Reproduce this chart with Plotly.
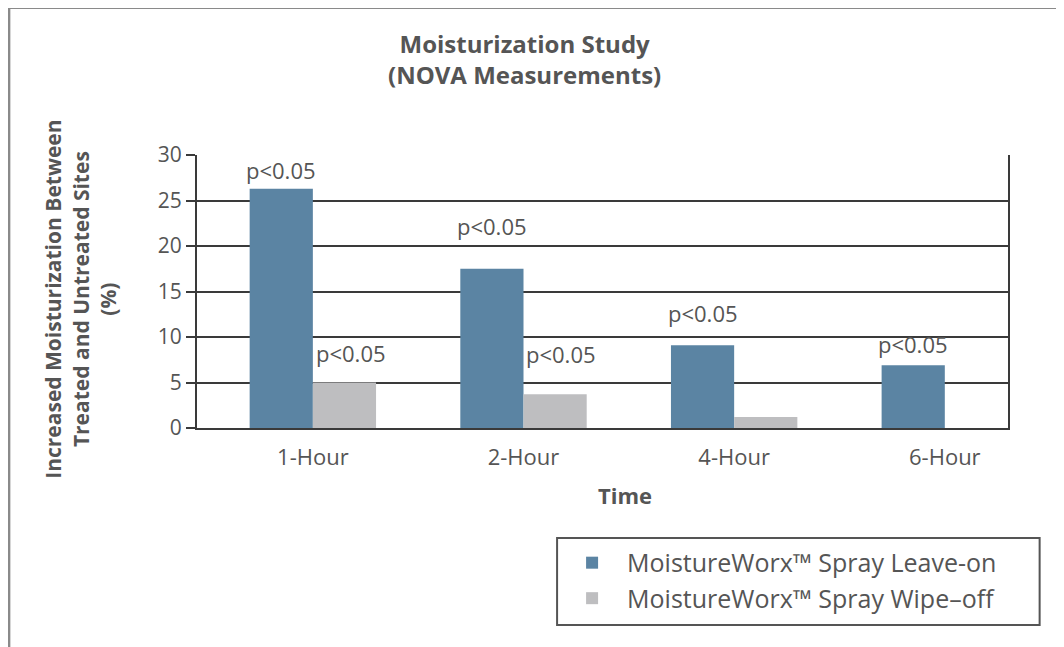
import plotly.graph_objects as go

# data
times = ["1-Hour", "2-Hour", "4-Hour", "6-Hour"]
leave_on = [26.3, 17.5, 9.1, 6.9]
wipe_off = [5.0, 3.7, 1.2, None]

# significance labels: (category index offset, y value)
label_text = ["p<0.05", "p<0.05", "p<0.05", "p<0.05", "p<0.05", "p<0.05"]
label_x = [-0.15, 0.18, 0.85, 1.18, 1.85, 2.85]
label_y = [28.3, 8.2, 22.2, 8.1, 12.6, 9.2]

blue = "#5B84A3"
grey = "#BEBEC0"
ink = "#3a3a3a"
text_col = "#555555"
font_family = "Open Sans, sans-serif"

fig = go.Figure()
fig.add_trace(go.Bar(x=times, y=leave_on, name="MoistureWorx™ Spray Leave-on",
                     marker=dict(color=blue, line=dict(width=0))))
fig.add_trace(go.Bar(x=times, y=wipe_off, name="MoistureWorx™ Spray Wipe–off",
                     marker=dict(color=grey, line=dict(width=0))))

annotations = []
for t, xv, yv in zip(label_text, label_x, label_y):
    annotations.append(dict(x=xv, y=yv, xref="x", yref="y", text=t, showarrow=False,
                            font=dict(size=22, color=text_col, family=font_family)))

# titles as annotations so they sit where the reference has them
annotations.append(dict(
    x=0.404, y=1.35, xref="paper", yref="paper", xanchor="center", yanchor="middle",
    showarrow=False, text="<b>Moisturization Study<br>(NOVA Measurements)</b>",
    font=dict(size=24, color=text_col, family=font_family)))
annotations.append(dict(
    x=-0.143, y=0.47, xref="paper", yref="paper", xanchor="center", yanchor="middle",
    textangle=-90, showarrow=False,
    text="<b>Increased Moisturization Between<br>Treated and Untreated Sites<br>(%)</b>",
    font=dict(size=21, color=text_col, family=font_family)))
annotations.append(dict(
    x=0.528, y=-0.245, xref="paper", yref="paper", xanchor="center", yanchor="middle",
    showarrow=False, text="<b>Time</b>",
    font=dict(size=22, color=text_col, family=font_family)))

# page body has an 8px margin, so the figure is a bit smaller and shifted
fig.update_layout(
    width=1056, height=639,
    paper_bgcolor="white", plot_bgcolor="white",
    barmode="group", bargap=0.4, bargroupgap=0,
    margin=dict(l=189, r=56, t=147, b=219),
    font=dict(family=font_family, color=text_col),
    xaxis=dict(range=[-0.55, 3.3], showgrid=False, showline=True, linecolor=ink, linewidth=2,
               ticks="", ticklabelstandoff=9, tickfont=dict(size=22, color=text_col)),
    yaxis=dict(range=[0, 30], dtick=5, showgrid=True, gridcolor=ink, gridwidth=2,
               showline=True, linecolor=ink, linewidth=2, ticks="outside", ticklen=9,
               tickwidth=2, tickcolor=ink, tickfont=dict(size=21, color=text_col),
               zeroline=False, mirror=True),
    legend=dict(x=0.444, y=-0.41, xanchor="left", yanchor="top",
                borderwidth=0, bgcolor="rgba(0,0,0,0)",
                font=dict(size=25, color=text_col, family=font_family),
                itemsizing="constant", itemwidth=60, traceorder="normal"),
    annotations=annotations,
    shapes=[
        # legend frame
        dict(type="rect", xref="paper", yref="paper", x0=0.444, x1=1.039, y0=-0.722, y1=-0.403,
             line=dict(color="#555555", width=2), fillcolor="white", layer="below"),
        # outer frame of the picture
        dict(type="line", xref="paper", yref="paper", x0=-0.232, x1=1.2, y0=1.54, y1=1.54,
             line=dict(color="#8a8a8a", width=3)),
        dict(type="line", xref="paper", yref="paper", x0=-0.232, x1=-0.232, y0=-1.0, y1=1.54,
             line=dict(color="#8a8a8a", width=3)),
    ],
)

fig.write_html("out.html")
